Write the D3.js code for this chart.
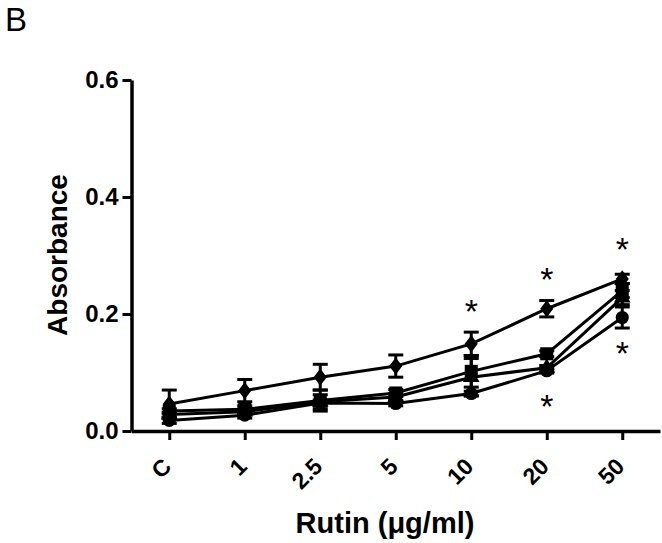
<!DOCTYPE html>
<html>
<head>
<meta charset="utf-8">
<script src="https://cdn.jsdelivr.net/npm/d3@7"></script>
<style>
  body { margin: 0; background: #fff; }
  svg { display: block; font-family: "Liberation Sans", Arial, sans-serif; }
</style>
</head>
<body>
<div id="grafico"></div>
<script>
// Categorias (Rutin, µg/ml)
const categorias = ["C", "1", "2.5", "5", "10", "20", "50"];

// Médias e erros de cada série
const losangoMedia = [0.046, 0.069, 0.092, 0.111, 0.149, 0.209, 0.260];
const losangoErro  = [0.024, 0.019, 0.022, 0.019, 0.020, 0.014, 0.008];
const quadradoMedia = [0.034, 0.037, 0.052, 0.065, 0.102, 0.132, 0.240];
const quadradoErro  = [0.004, 0.006, 0.018, 0.006, 0.027, 0.005, 0.012];
const trianguloMedia = [0.028, 0.033, 0.050, 0.058, 0.092, 0.108, 0.228];
const trianguloErro  = [0.004, 0.005, 0.012, 0.006, 0.032, 0.004, 0.012];
const circuloMedia = [0.018, 0.027, 0.048, 0.047, 0.064, 0.103, 0.194];
const circuloErro  = [0.005, 0.005, 0.005, 0.004, 0.004, 0.004, 0.018];

// Ticks do eixo Y
const ticksY = [0, 0.2, 0.4, 0.6];

// Asteriscos de significância (categoria, posição em absorbância)
const asteriscoCat = ["10", "20", "20", "50", "50"];
const asteriscoVal = [0.220, 0.274, 0.057, 0.326, 0.147];

// Losango mais "gordo" que o do d3 (estilo GraphPad)
const losango = {
    draw(ctx, size) {
        const h = Math.sqrt(size) * 0.68, w = h * 0.76;
        ctx.moveTo(0, -h);
        ctx.lineTo(w, 0);
        ctx.lineTo(0, h);
        ctx.lineTo(-w, 0);
        ctx.closePath();
    }
};

const series = [
    { media: circuloMedia, erro: circuloErro, simbolo: d3.symbolCircle, area: 135 },
    { media: trianguloMedia, erro: trianguloErro, simbolo: d3.symbolTriangle, area: 120 },
    { media: quadradoMedia, erro: quadradoErro, simbolo: d3.symbolSquare, area: 170 },
    { media: losangoMedia, erro: losangoErro, simbolo: losango, area: 160 }
];

const largura = 662, altura = 543;

const svg = d3.select("#grafico").append("svg")
    .attr("width", largura)
    .attr("height", altura);

// Escalas
const x = d3.scalePoint()
    .domain(categorias)
    .range([131.5, 660])
    .padding(0.5);

const y = d3.scaleLinear()
    .domain([0, 0.6])
    .range([431, 80]);

// Eixo X
const eixoX = svg.append("g")
    .attr("transform", "translate(0,431)")
    .call(d3.axisBottom(x).tickSize(9).tickSizeOuter(0));
eixoX.select(".domain").attr("stroke-width", 3.5);
eixoX.selectAll(".tick line").attr("stroke-width", 3);
eixoX.selectAll(".tick text")
    .attr("font-size", 23)
    .attr("font-weight", "bold")
    .attr("text-anchor", "end")
    .attr("dy", 0)
    .attr("y", 0)
    .attr("transform", "translate(3,37) rotate(-45)");

// Eixo Y
const eixoY = svg.append("g")
    .attr("transform", "translate(131.5,0)")
    .call(d3.axisLeft(y).tickValues(ticksY).tickFormat(d3.format(".1f")).tickSize(9).tickSizeOuter(0));
eixoY.select(".domain").attr("stroke-width", 3.5);
eixoY.selectAll(".tick line").attr("stroke-width", 3);
eixoY.selectAll(".tick text")
    .attr("font-size", 24)
    .attr("font-weight", "bold")
    .attr("x", -13);

// Títulos
svg.append("text")
    .attr("x", 385)
    .attr("y", 533)
    .attr("text-anchor", "middle")
    .attr("font-size", 29)
    .attr("font-weight", "bold")
    .text("Rutin (\u03BCg/ml)");

svg.append("text")
    .attr("transform", "translate(67,255) rotate(-90)")
    .attr("text-anchor", "middle")
    .attr("font-size", 28)
    .attr("font-weight", "bold")
    .text("Absorbance");

svg.append("text")
    .attr("x", 5)
    .attr("y", 31)
    .attr("font-size", 33)
    .text("B");

// Linhas, barras de erro e marcadores
const linha = d3.line()
    .x((d, i) => x(categorias[i]))
    .y(d => y(d));

series.forEach(s => {
    svg.append("path")
        .datum(s.media)
        .attr("fill", "none")
        .attr("stroke", "#000")
        .attr("stroke-width", 3)
        .attr("d", linha);
});

series.forEach(s => {
    const g = svg.append("g").attr("stroke", "#000").attr("stroke-width", 3);
    s.media.forEach((m, i) => {
        const cx = x(categorias[i]);
        const y1 = y(m + s.erro[i]), y2 = y(m - s.erro[i]);
        g.append("line").attr("x1", cx).attr("x2", cx).attr("y1", y1).attr("y2", y2);
        g.append("line").attr("x1", cx - 7.5).attr("x2", cx + 7.5).attr("y1", y1).attr("y2", y1);
        g.append("line").attr("x1", cx - 7.5).attr("x2", cx + 7.5).attr("y1", y2).attr("y2", y2);
    });
});

series.forEach(s => {
    svg.append("g").selectAll("path")
        .data(s.media)
        .join("path")
        .attr("transform", (d, i) => `translate(${x(categorias[i])},${y(d)})`)
        .attr("d", d3.symbol().type(s.simbolo).size(s.area))
        .attr("fill", "#000");
});

// Asteriscos
svg.append("g").selectAll("text")
    .data(asteriscoVal)
    .join("text")
    .attr("x", (d, i) => x(asteriscoCat[i]))
    .attr("y", d => y(d))
    .attr("dy", "0.6em")
    .attr("text-anchor", "middle")
    .attr("font-size", 34)
    .text("*");
</script>
</body>
</html>
